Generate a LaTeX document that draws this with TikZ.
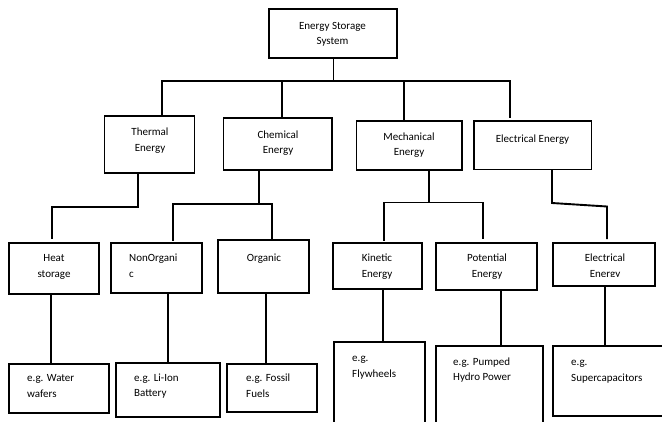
\documentclass[tikz,border=0pt]{standalone}
\usepackage{fontspec}
\setmainfont{Carlito}
\begin{document}
\begin{tikzpicture}[x=1pt,y=-1pt,
  box/.style={draw,line width=1.9pt,inner sep=0pt,minimum width=#1},
  conn/.style={line width=1.9pt,line cap=rect},
  thinconn/.style={line width=1pt},
  lbl/.style={inner sep=0pt,font=\fontsize{11}{15.5}\selectfont,align=center},
  lbll/.style={inner sep=0pt,font=\fontsize{11}{15.5}\selectfont,align=left,anchor=west}]
\useasboundingbox (0,0) rectangle (662,421);
\clip (0,0) rectangle (662,421);
% level 1
\node[box=128pt,minimum height=49pt] (top) at (333,33.5) {};
% level 2
\node[box=90pt,minimum height=57pt] (thermal) at (149.5,144.5) {};
\node[box=108.5pt,minimum height=52pt] (chemical) at (277.75,144) {};
\node[box=105.5pt,minimum height=49pt] (mech) at (409.25,145.5) {};
\node[box=117.5pt,minimum height=48.5pt] (elec) at (532.75,145.25) {};
% level 3
\node[box=90pt,minimum height=51pt] (heat) at (54,268.5) {};
\node[box=91pt,minimum height=50pt] (nonorg) at (156.5,268) {};
\node[box=91pt,minimum height=53pt] (organic) at (263.5,266.5) {};
\node[box=89pt,minimum height=46pt] (kinetic) at (377.5,266) {};
\node[box=101pt,minimum height=47pt] (potential) at (486.5,266.5) {};
\node[box=102pt,minimum height=43pt] (elecB) at (604,264.5) {};
% level 4
\node[box=100pt,minimum height=49pt] (water) at (59,388.5) {};
\node[box=104pt,minimum height=54pt] (liion) at (168,390) {};
\node[box=90pt,minimum height=48pt] (fossil) at (272,388) {};
\node[box=91pt,minimum height=98pt] (fly) at (379.5,391) {};
\node[box=107pt,minimum height=94pt] (pumped) at (489.5,393) {};
\node[box=127pt,minimum height=70pt] (super) at (616.5,381) {};

% texts
\node[lbl] (ttop) at (332.5,34) {\strut Energy Storage\\\strut System};
\node[lbl] (tthermal) at (150,140.5) {\strut Thermal\\\strut Energy};
\node[lbl] (tchemical) at (278,143) {\strut Chemical\\\strut Energy};
\node[lbl] (tmech) at (409,145) {\strut Mechanical\\\strut Energy};
\node[lbl] (telec) at (532.5,139) {\strut Electrical Energy};
\node[lbl] (theat) at (54,266.5) {\strut Heat\\\strut storage};
\node[lbll] (tnonorg) at (129,266.5) {\strut NonOrgani\\\strut c};
\node[lbl] (torganic) at (264,258) {\strut Organic};
\node[lbl] (tkinetic) at (377,266.5) {\strut Kinetic\\\strut Energy};
\node[lbl] (tpotential) at (487,266.5) {\strut Potential\\\strut Energy};
\coordinate (ecut) at (0,276.5);
\begin{scope}
\clip (elecB.north west) rectangle (elecB.east |- ecut);
\node[lbl] (telecB) at (605,266.5) {\strut Electrical\\\strut Energy};
\end{scope}
\node[lbll] (twater) at (27,386.5) {\strut e.g. Water\\\strut wafers};
\node[lbll] (tliion) at (134,386) {\strut e.g. Li-Ion\\\strut Battery};
\node[lbll] (tfossil) at (246,386.5) {\strut e.g. Fossil\\\strut Fuels};
\node[lbll] (tfly) at (352,366.5) {\strut e.g.\\\strut Flywheels};
\node[lbll] (tpumped) at (453,370) {\strut e.g. Pumped\\\strut Hydro Power};
\node[lbll] (tsuper) at (571,370.5) {\strut e.g.\\\strut Supercapacitors};

% level 1 -> 2
\coordinate (bl) at (162,81);
\coordinate (bc) at (282,81);
\coordinate (bm) at (404,81);
\coordinate (br) at (510,81);
\coordinate (brend) at (510,117);
\draw[thinconn] (top.south) -- (top.south |- bl);
\draw[conn] (bl) -- (br);
\draw[conn] (bl) -- (bl |- thermal.north);
\draw[conn] (bc) -- (bc |- chemical.north);
\draw[conn] (bm) -- (bm |- mech.north);
\draw[conn] (br) -- (brend);

% thermal -> heat
\coordinate (t1) at (138,207);
\coordinate (t2) at (52,207);
\draw[conn,shorten >=4pt] (thermal.south -| t1) -- (t1) -- (t2) -- (t2 |- heat.north);
% chemical -> nonorganic, organic
\coordinate (c1) at (259,204);
\coordinate (c2) at (173,204);
\coordinate (c3) at (272,204);
\draw[conn] (chemical.south -| c1) -- (c1);
\draw[conn] (c2) -- (c3);
\draw[conn,shorten >=2pt] (c2) -- (c2 |- nonorg.north);
\draw[conn] (c3) -- (c3 |- organic.north);
% mechanical -> kinetic, potential
\coordinate (m1) at (429,202.5);
\coordinate (m2) at (384,202.5);
\coordinate (m3) at (483,202.5);
\draw[conn] (mech.south -| m1) -- (m1);
\draw[conn] (m2) -- (m3);
\draw[conn,shorten >=2pt] (m2) -- (m2 |- kinetic.north);
\draw[conn,shorten >=4pt] (m3) -- (m3 |- potential.north);
% electrical -> electrical
\coordinate (e1) at (552,203);
\coordinate (e2) at (607,206.5);
\draw[conn,shorten >=4pt] (elec.south -| e1) -- (e1) -- (e2) -- (e2 |- elecB.north);

% level 3 -> 4
\coordinate (d1) at (51,0);
\coordinate (d2) at (168,0);
\coordinate (d3) at (266,0);
\coordinate (d4) at (383,0);
\coordinate (d5) at (501,0);
\coordinate (d6) at (605,0);
\draw[conn] (heat.south -| d1) -- (d1 |- water.north);
\draw[conn] (nonorg.south -| d2) -- (d2 |- liion.north);
\draw[conn] (organic.south -| d3) -- (d3 |- fossil.north);
\draw[conn] (kinetic.south -| d4) -- (d4 |- fly.north);
\draw[conn] (potential.south -| d5) -- (d5 |- pumped.north);
\draw[conn] (elecB.south -| d6) -- (d6 |- super.north);
\end{tikzpicture}
\end{document}
